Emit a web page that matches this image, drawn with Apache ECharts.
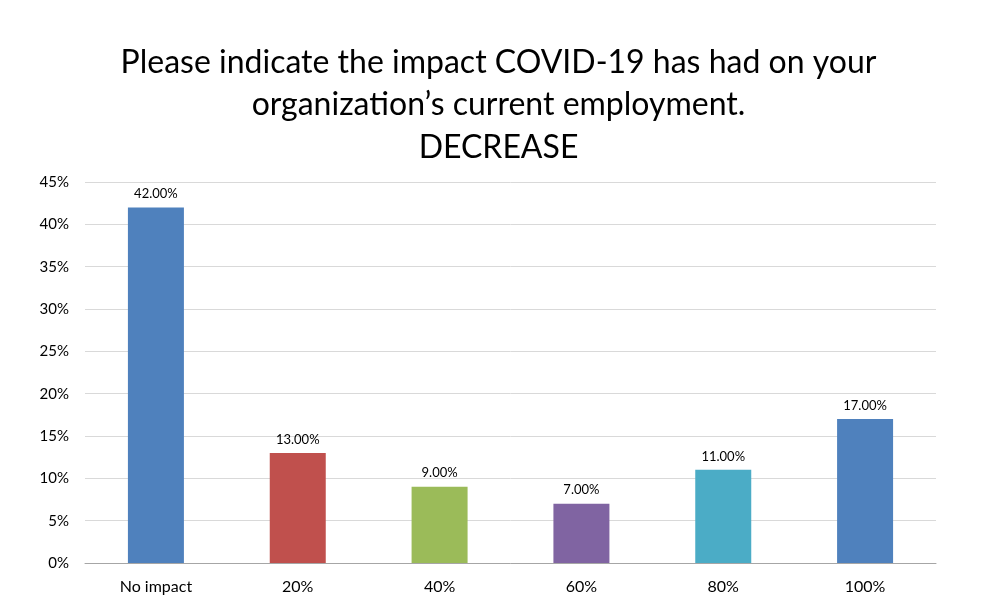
<!DOCTYPE html>
<html><head><meta charset="utf-8">
<script src="https://cdn.jsdelivr.net/npm/echarts@6/dist/echarts.min.js"></script>
<style>html,body{margin:0;padding:0;background:#fff}#c{width:997px;height:612px}</style>
</head><body><div id="c"></div>
<script>
const categories = ['No impact', '20%', '40%', '60%', '80%', '100%'];
const values = [42, 13, 9, 7, 11, 17];
const barColors = ['#4F81BD', '#C0504D', '#9BBB59', '#8064A2', '#4BACC6', '#4F81BD'];
const titleLines = ['Please indicate the impact COVID-19 has had on your', 'organization\u2019s current employment.', 'DECREASE'];

const chart = echarts.init(document.getElementById('c'));
const font = 'Lato, "Open Sans", sans-serif';
chart.setOption({
  backgroundColor: '#fff',
  animation: false,
  title: {
    text: titleLines.join('\n'),
    left: 'center', top: 36,
    textStyle: { fontFamily: font, fontSize: 32, fontWeight: 'normal', color: '#000', lineHeight: 42.5 }
  },
  grid: { left: 85, right: 61, top: 182, bottom: 49 },
  xAxis: {
    type: 'category', data: categories,
    axisTick: { show: false },
    axisLine: { lineStyle: { color: '#A6A6A6' } },
    axisLabel: { fontFamily: font, fontSize: 16, color: '#000', margin: 16 }
  },
  yAxis: {
    type: 'value', min: 0, max: 45, interval: 5,
    axisLabel: { formatter: '{value}%', fontFamily: font, fontSize: 15, color: '#000', margin: 16 },
    splitLine: { lineStyle: { color: '#D9D9D9' } },
    axisLine: { show: false }, axisTick: { show: false }
  },
  series: [{
    type: 'bar',
    data: values.map((v, i) => ({ value: v, itemStyle: { color: barColors[i] } })),
    barWidth: 56,
    label: {
      show: true, position: 'top', distance: 7,
      formatter: p => p.value.toFixed(2) + '%',
      fontFamily: font, fontSize: 13, color: '#000'
    }
  }]
});
</script></body></html>
